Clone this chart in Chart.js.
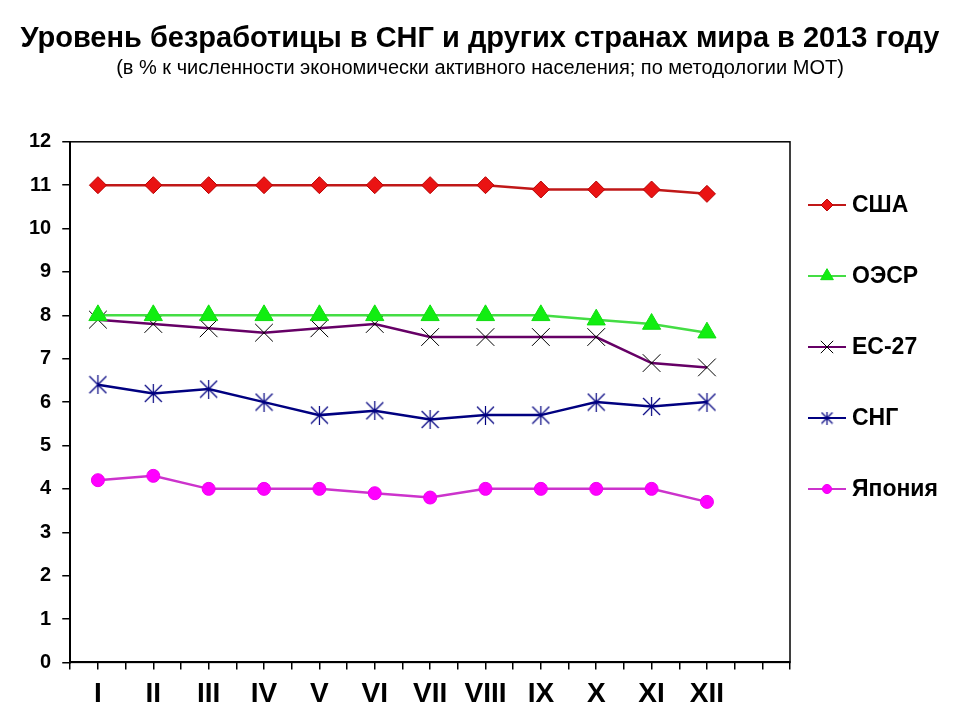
<!DOCTYPE html>
<html>
<head>
<meta charset="utf-8">
<script src="https://cdn.jsdelivr.net/npm/chart.js@4.4.1/dist/chart.umd.min.js"></script>
<style>
    html, body { margin: 0; background: #fff; }
    #wrap { width: 960px; height: 720px; }
</style>
</head>
<body>
<div id="wrap"><canvas id="myChart"></canvas></div>
<script>
// months of 2013, the 13th slot is left empty like in the original slide
const months = ["I", "II", "III", "IV", "V", "VI", "VII", "VIII", "IX", "X", "XI", "XII", ""]

const usa = [11, 11, 11, 11, 11, 11, 11, 11, 10.9, 10.9, 10.9, 10.8]
const oecd = [8, 8, 8, 8, 8, 8, 8, 8, 8, 7.9, 7.8, 7.6]
const eu27 = [7.9, 7.8, 7.7, 7.6, 7.7, 7.8, 7.5, 7.5, 7.5, 7.5, 6.9, 6.8]
const cis = [6.4, 6.2, 6.3, 6.0, 5.7, 5.8, 5.6, 5.7, 5.7, 6.0, 5.9, 6.0]
const japan = [4.2, 4.3, 4.0, 4.0, 4.0, 3.9, 3.8, 4.0, 4.0, 4.0, 4.0, 3.7]

const seriesNames = ["США", "ОЭСР", "ЕС-27", "СНГ", "Япония"]

const fontMain = "'Liberation Sans', Arial, sans-serif"

// excel style star: an X with a vertical bar
function starMarker(size, color) {
    const c = document.createElement("canvas")
    c.width = size
    c.height = size
    const g = c.getContext("2d")
    g.strokeStyle = color
    g.lineWidth = 1.2
    g.beginPath()
    g.moveTo(1, 1); g.lineTo(size - 1, size - 1)
    g.moveTo(size - 1, 1); g.lineTo(1, size - 1)
    g.moveTo(size / 2, 0); g.lineTo(size / 2, size)
    g.stroke()
    return c
}

function makeSeries(label, data, line, fill, border, style, radius, bw) {
    return {
        label: label,
        data: data,
        borderColor: line,
        borderWidth: 2.5,
        pointStyle: style,
        pointRadius: radius,
        pointHoverRadius: radius,
        pointBackgroundColor: fill,
        pointBorderColor: border,
        pointBorderWidth: bw,
        tension: 0
    }
}

const datasets = [
    makeSeries(seriesNames[0], usa, "#c01818", "#ea1313", "#b80000", "rectRot", 8.5, 1),
    makeSeries(seriesNames[1], oecd, "#44dd44", "#11ee11", "#11dd11", "triangle", 10.5, 1),
    makeSeries(seriesNames[2], eu27, "#660066", "#000000", "#000000", "crossRot", 12.5, 1),
    makeSeries(seriesNames[3], cis, "#000080", "#000080", "#000080", starMarker(19, "#000080"), 9, 1),
    makeSeries(seriesNames[4], japan, "#cc33cc", "#ff00ff", "#ee00ee", "circle", 6.5, 1)
]

// frame round the plot area
const framePlugin = {
    id: "frame",
    afterDraw(chart) {
        const a = chart.chartArea
        const ctx = chart.ctx
        ctx.save()
        ctx.strokeStyle = "#000"
        ctx.lineWidth = 1.5
        ctx.strokeRect(a.left, a.top, a.right - a.left, a.bottom - a.top)
        ctx.restore()
    }
}

// legend drawn like the office one: short line with the marker on it
const sideLegend = {
    id: "sideLegend",
    afterDraw(chart) {
        const ctx = chart.ctx
        const x0 = chart.chartArea.right + 18
        const small = starMarker(13, "#000080")
        ctx.save()
        chart.data.datasets.forEach((ds, i) => {
            const y = 205 + i * 71
            ctx.strokeStyle = ds.borderColor
            ctx.lineWidth = 2
            ctx.beginPath()
            ctx.moveTo(x0, y)
            ctx.lineTo(x0 + 38, y)
            ctx.stroke()
            ctx.fillStyle = ds.pointBackgroundColor
            ctx.strokeStyle = ds.pointBorderColor
            ctx.lineWidth = ds.pointBorderWidth
            const style = typeof ds.pointStyle === "string" ? ds.pointStyle : small
            Chart.helpers.drawPoint(ctx, {
                pointStyle: style,
                radius: ds.pointRadius * 0.7,
                rotation: 0,
                borderWidth: ds.pointBorderWidth
            }, x0 + 19, y)
            ctx.fillStyle = "#000"
            ctx.font = "bold 23px " + fontMain
            ctx.textBaseline = "middle"
            ctx.textAlign = "left"
            ctx.fillText(ds.label, x0 + 44, y + 1)
        })
        ctx.restore()
    }
}

var ctx = document.getElementById("myChart").getContext("2d")
var chart = new Chart(ctx, {
    type: "line",
    data: {
        labels: months,
        datasets: datasets
    },
    options: {
        responsive: true,
        maintainAspectRatio: false,
        animation: false,
        layout: { padding: { left: 0, top: 0, bottom: 1, right: 0 } },
        plugins: {
            legend: { display: false },
            tooltip: { enabled: false },
            title: {
                display: true,
                text: "Уровень безработицы в СНГ и других странах мира в 2013 году",
                color: "#000",
                font: { family: fontMain, size: 29, weight: "bold" },
                padding: { top: 22, bottom: 0 }
            },
            subtitle: {
                display: true,
                text: "(в % к численности экономически активного населения; по методологии МОТ)",
                color: "#000",
                font: { family: fontMain, size: 20 },
                padding: { top: 0, bottom: 61 }
            }
        },
        scales: {
            x: {
                type: "category",
                offset: true,
                display: false
            },
            xt: {
                type: "linear",
                position: "bottom",
                min: 0,
                max: months.length,
                grid: { drawOnChartArea: false, color: "#000", tickLength: 7, lineWidth: 1.5 },
                border: { display: true, color: "#000", width: 2 },
                ticks: {
                    stepSize: 0.5,
                    maxTicksLimit: 40,
                    autoSkip: false,
                    maxRotation: 0,
                    padding: 8,
                    color: "#000",
                    font: { family: fontMain, size: 28, weight: "bold" },
                    callback: (v) => Number.isInteger(v) ? "" : months[Math.floor(v)]
                }
            },
            y: {
                min: 0,
                max: 12,
                grid: { drawOnChartArea: false, color: "#000", tickLength: 8, lineWidth: 1.5 },
                border: { display: true, color: "#000", width: 2 },
                ticks: {
                    stepSize: 1,
                    padding: 11,
                    color: "#000",
                    font: { family: fontMain, size: 20, weight: "bold" }
                },
                afterFit: (s) => { s.width += 18 }
            },
            yr: {
                position: "right",
                grid: { display: false },
                border: { display: false },
                ticks: { display: false },
                afterFit: (s) => { s.width = 170 }
            }
        }
    },
    plugins: [framePlugin, sideLegend]
})
</script>
</body>
</html>
